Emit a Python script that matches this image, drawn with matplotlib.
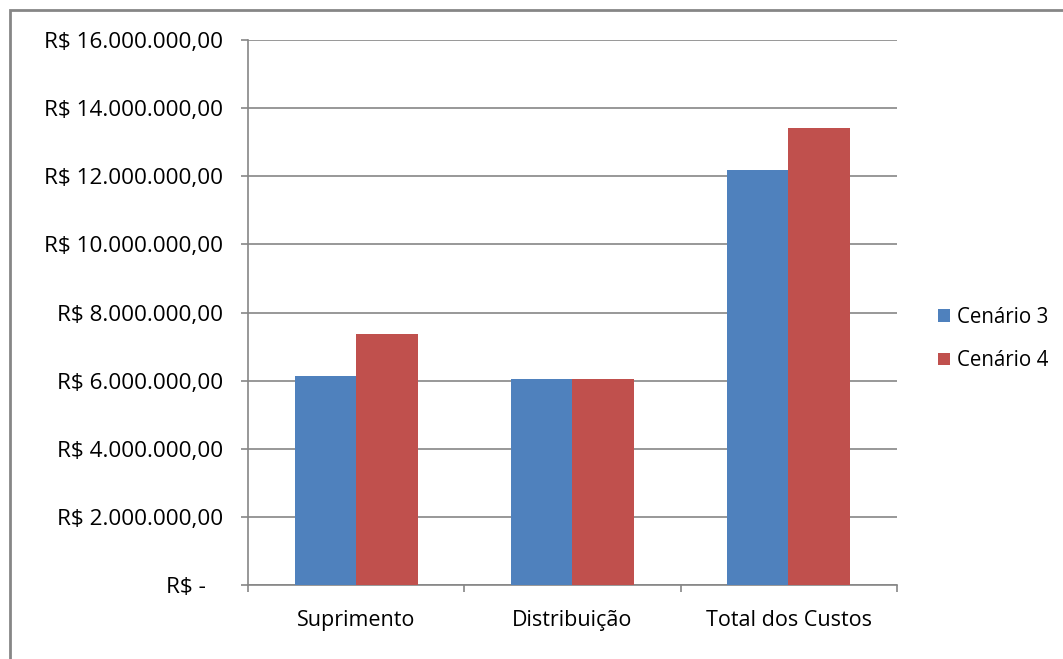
import matplotlib.pyplot as plt
import numpy as np
from matplotlib.patches import Rectangle

categorias = ['Suprimento', 'Distribuição', 'Total dos Custos']
cenario3 = [6120000, 6030000, 12170000]
cenario4 = [7350000, 6030000, 13400000]
series = ['Cenário 3', 'Cenário 4']
cores = ['#4F81BD', '#C0504D']
yticks = np.arange(0, 16000001, 2000000)

def fmt_real(v):
    if v == 0:
        return 'R$ -   '
    s = f'{v:,.2f}'.replace(',', 'X').replace('.', ',').replace('X', '.')
    return 'R$ ' + s

plt.rcParams['font.family'] = ['Open Sans', 'DejaVu Sans']
cinza = '#868686'
fs = 15.5

fig = plt.figure(figsize=(10.63, 6.59), dpi=100)
ax = fig.add_axes([248/1063, 1 - 585/659, (897-248)/1063, (585-40)/659])

x = np.arange(len(categorias))
w = 0.282
ax.bar(x - w/2, cenario3, w, color=cores[0], label=series[0], zorder=3,
       linewidth=0, antialiased=False, snap=False)
ax.bar(x + w/2, cenario4, w, color=cores[1], label=series[1], zorder=3,
       linewidth=0, antialiased=False, snap=False)

ax.set_xlim(-0.5, len(categorias) - 0.5)
ax.set_ylim(0, 16000000)
ax.set_yticks(yticks)
ax.set_yticklabels([fmt_real(v) for v in yticks], fontsize=16.2)
ax.yaxis.grid(True, color=cinza, linewidth=1.2, zorder=0)

# ticks at category boundaries, labels centred as minor ticks
ax.set_xticks(np.arange(-0.5, len(categorias), 1.0))
ax.set_xticklabels([])
ax.set_xticks(x, minor=True)
ax.set_xticklabels(categorias, minor=True, fontsize=fs)
ax.tick_params(axis='x', which='minor', length=0, pad=18)
ax.tick_params(axis='x', which='major', length=5, color=cinza, width=1.2)
ax.tick_params(axis='y', length=5, color=cinza, width=1.2, pad=13)

for s in ['top', 'right']:
    ax.spines[s].set_visible(False)
for s in ['left', 'bottom']:
    ax.spines[s].set_color(cinza)
    ax.spines[s].set_linewidth(1.2)

fig.legend(loc='center left', bbox_to_anchor=(928/1063, 1 - 339/659), frameon=False,
           fontsize=14.8, handlelength=0.55, handleheight=0.55, handletextpad=0.35,
           labelspacing=1.1, borderpad=0)

fig.patches.append(Rectangle((10/1063, -0.05), 1.1, 1 - 10/659 + 0.05,
                             transform=fig.transFigure, fill=False,
                             edgecolor=cinza, linewidth=2))

fig.savefig('out.png', dpi=100)
